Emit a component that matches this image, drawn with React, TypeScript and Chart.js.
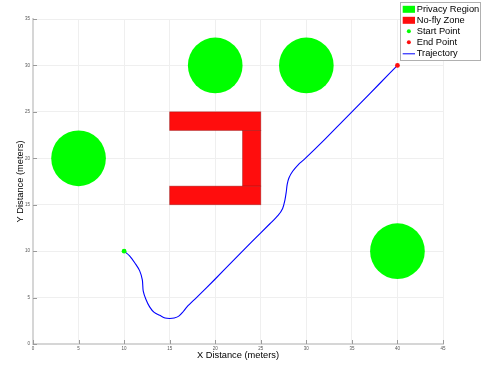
import React, { useEffect, useRef } from "react";
import { Chart, registerables } from "chart.js";

Chart.register(...registerables);

// Axis ranges and ticks
const xMin = 0, xMax = 45, xStep = 5;
const yMin = 0, yMax = 35, yStep = 5;

// Privacy regions (circles): centres and radius in metres
const privacyX = [5, 20, 30, 40];
const privacyY = [20, 30, 30, 10];
const privacyR = [3, 3, 3, 3];

// No-fly zone rectangles: [xFrom, xTo, yFrom, yTo]
const noFlyX1 = [15, 23, 15];
const noFlyX2 = [25, 25, 25];
const noFlyY1 = [23, 17, 15];
const noFlyY2 = [25, 23, 17];

// Start / end points
const startPoint = { x: 10, y: 10 };
const endPoint = { x: 40, y: 30 };

// Flight trajectory
const trajX = [10, 10.6, 11.2, 11.7, 12.0, 12.1, 12.4, 12.8, 13.3, 13.9, 14.5, 15.0, 15.5, 16.0, 16.5, 16.9, 18, 20, 22, 24, 26, 26.9, 27.4, 27.65, 27.8, 27.9, 28.1, 28.5, 29.1, 29.8, 32, 34, 36, 38, 40];
const trajY = [10, 9.5, 8.7, 7.9, 6.9, 5.7, 4.8, 4.0, 3.4, 3.1, 2.8, 2.75, 2.8, 3.0, 3.5, 4.0, 5.05, 7.0, 9.0, 11.0, 12.95, 13.85, 14.6, 15.5, 16.4, 17.2, 17.9, 18.6, 19.3, 19.9, 22, 24, 26, 28, 30];

const legendLabels = ["Privacy Region", "No-fly Zone", "Start Point", "End Point", "Trajectory"];

const GREEN = "#00ff00";
const RED = "#ff0d0d";
const BLUE = "#0000ff";
const FONT = "'Liberation Sans', Arial, Helvetica, sans-serif";

// Filled circles and rectangles drawn through the chart scales
const regionsPlugin = {
  id: "regions",
  beforeDatasetsDraw(chart: any) {
    const { ctx, chartArea, scales } = chart;
    const xs = scales.x, ys = scales.y;
    ctx.save();
    ctx.beginPath();
    ctx.rect(chartArea.left, chartArea.top, chartArea.right - chartArea.left, chartArea.bottom - chartArea.top);
    ctx.clip();
    ctx.fillStyle = GREEN;
    for (let i = 0; i < privacyX.length; i++) {
      const cx = xs.getPixelForValue(privacyX[i]);
      const cy = ys.getPixelForValue(privacyY[i]);
      const rx = Math.abs(xs.getPixelForValue(privacyX[i] + privacyR[i]) - cx);
      const ry = Math.abs(ys.getPixelForValue(privacyY[i] + privacyR[i]) - cy);
      ctx.beginPath();
      ctx.ellipse(cx, cy, rx, ry, 0, 0, Math.PI * 2);
      ctx.fill();
    }
    for (let i = 0; i < noFlyX1.length; i++) {
      const l = xs.getPixelForValue(noFlyX1[i]);
      const r = xs.getPixelForValue(noFlyX2[i]);
      const t = ys.getPixelForValue(noFlyY2[i]);
      const b = ys.getPixelForValue(noFlyY1[i]);
      ctx.fillStyle = RED;
      ctx.fillRect(l, t, r - l, b - t);
      ctx.strokeStyle = "rgba(150,20,20,0.55)";
      ctx.lineWidth = 0.8;
      ctx.strokeRect(l, t, r - l, b - t);
    }
    ctx.restore();
  },
};

// Inward tick marks on the left and bottom axes
const innerTicksPlugin = {
  id: "innerTicks",
  afterDatasetsDraw(chart: any) {
    const { ctx, chartArea, scales } = chart;
    ctx.save();
    ctx.strokeStyle = "#9a9a9a";
    ctx.lineWidth = 1;
    scales.x.ticks.forEach((t: any) => {
      const px = Math.round(scales.x.getPixelForValue(t.value)) + 0.5;
      ctx.beginPath();
      ctx.moveTo(px, chartArea.bottom);
      ctx.lineTo(px, chartArea.bottom - 4);
      ctx.stroke();
    });
    scales.y.ticks.forEach((t: any) => {
      const py = Math.round(scales.y.getPixelForValue(t.value)) + 0.5;
      ctx.beginPath();
      ctx.moveTo(chartArea.left, py);
      ctx.lineTo(chartArea.left + 4, py);
      ctx.stroke();
    });
    ctx.restore();
  },
};

// Boxed legend in the upper-right corner
const boxLegendPlugin = {
  id: "boxLegend",
  afterDraw(chart: any) {
    const { ctx } = chart;
    ctx.save();
    const x0 = 400.5, y0 = 2.5, w = 80, h = 58;
    ctx.fillStyle = "#ffffff";
    ctx.fillRect(x0, y0, w, h);
    ctx.strokeStyle = "#b0b0b0";
    ctx.lineWidth = 1;
    ctx.strokeRect(x0, y0, w, h);
    ctx.font = `9.3px ${FONT}`;
    ctx.textBaseline = "middle";
    ctx.textAlign = "left";
    legendLabels.forEach((label, i) => {
      const cy = 9.3 + i * 11;
      const sx = 402.7, sw = 12.3;
      if (i === 0 || i === 1) {
        ctx.fillStyle = i === 0 ? GREEN : RED;
        ctx.fillRect(sx, cy - 3.5, sw, 7);
      } else if (i === 2 || i === 3) {
        ctx.fillStyle = i === 2 ? GREEN : RED;
        ctx.beginPath();
        ctx.arc(sx + sw / 2, cy, 2, 0, Math.PI * 2);
        ctx.fill();
      } else {
        ctx.strokeStyle = BLUE;
        ctx.lineWidth = 1;
        ctx.beginPath();
        ctx.moveTo(sx, cy + 0.5);
        ctx.lineTo(sx + sw, cy + 0.5);
        ctx.stroke();
      }
      ctx.fillStyle = "#000000";
      ctx.fillText(label, 416.7, cy + 0.5);
    });
    ctx.restore();
  },
};

export default function App() {
  const canvasRef = useRef<HTMLCanvasElement | null>(null);

  useEffect(() => {
    if (!canvasRef.current) return;
    const trajectory = trajX.map((x, i) => ({ x, y: trajY[i] }));
    const chart = new Chart(canvasRef.current, {
      type: "line",
      data: {
        datasets: [
          {
            label: "Start Point",
            data: [startPoint],
            showLine: false,
            pointRadius: 2.4,
            pointBackgroundColor: GREEN,
            pointBorderWidth: 0,
          },
          {
            label: "End Point",
            data: [endPoint],
            showLine: false,
            pointRadius: 2.4,
            pointBackgroundColor: RED,
            pointBorderWidth: 0,
          },
          {
            label: "Trajectory",
            data: trajectory,
            borderColor: BLUE,
            borderWidth: 1.1,
            pointRadius: 0,
            fill: false,
            tension: 0.3,
          },
        ],
      },
      options: {
        responsive: false,
        animation: false,
        devicePixelRatio: 1,
        layout: { padding: { top: 19, right: 45, left: 0, bottom: 0 } },
        plugins: {
          legend: { display: false },
          tooltip: { enabled: false },
        },
        events: [],
        scales: {
          x: {
            type: "linear",
            min: xMin,
            max: xMax,
            afterFit: (scale: any) => {
              scale.height = 24;
            },
            ticks: {
              stepSize: xStep,
              padding: 2.5,
              maxRotation: 0,
              color: "#555555",
              font: { size: 4.5, family: FONT },
            },
            grid: { color: "#efefef", lineWidth: 1, drawTicks: false },
            border: { color: "#d6d6d6", width: 2 },
            title: {
              display: true,
              text: "X Distance (meters)",
              color: "#000000",
              font: { size: 9.3, family: FONT },
              padding: { top: 0, bottom: 6.7 },
            },
          },
          y: {
            type: "linear",
            min: yMin,
            max: yMax,
            afterFit: (scale: any) => {
              scale.width = 33;
            },
            ticks: {
              stepSize: yStep,
              padding: 3,
              color: "#555555",
              font: { size: 4.5, family: FONT },
            },
            grid: { color: "#efefef", lineWidth: 1, drawTicks: false },
            border: { color: "#d6d6d6", width: 2 },
            title: {
              display: true,
              text: "Y Distance (meters)",
              color: "#000000",
              font: { size: 9.3, family: FONT },
              padding: { top: 14.4, bottom: 0 },
            },
          },
        },
      },
      plugins: [regionsPlugin, innerTicksPlugin, boxLegendPlugin],
    } as any);
    return () => chart.destroy();
  }, []);

  return (
    <div style={{ position: "absolute", left: 0, top: 0, width: 488, height: 368, background: "#ffffff" }}>
      <canvas ref={canvasRef} width={488} height={368} style={{ display: "block" }} />
    </div>
  );
}
